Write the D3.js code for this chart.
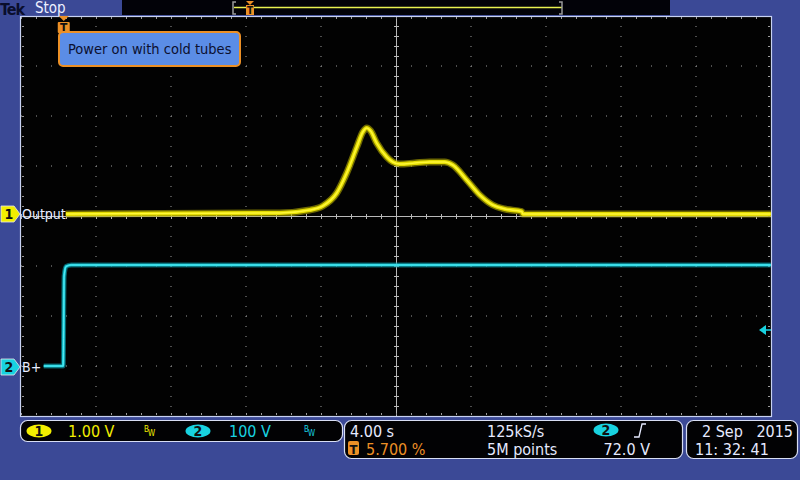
<!DOCTYPE html>
<html><head><meta charset="utf-8">
<script src="https://cdn.jsdelivr.net/npm/d3@7"></script>
<style>
html,body{margin:0;padding:0;background:#3b4996;}
svg{display:block;}
text{font-family:"Liberation Sans Narrow","DejaVu Sans Condensed","Noto Sans",sans-serif;}
</style></head>
<body>
<svg id="c" width="800" height="480"></svg>
<script>
// ---- Data ----
const ch1Time  = [0.11, 11.52, 13.12, 13.81, 14.56, 15.09, 15.63, 15.95, 16.16, 16.37, 16.69, 17.23, 17.55, 17.92, 18.72, 19.52, 20.32, 20.75, 21.49, 22.19, 22.88, 23.52, 24.43, 24.48, 37.71];
const ch1Volts = [0.00, 0.02, 0.08, 0.16, 0.42, 0.82, 1.34, 1.64, 1.72, 1.66, 1.42, 1.14, 1.04, 1.00, 1.02, 1.04, 1.04, 0.98, 0.68, 0.38, 0.18, 0.10, 0.05, 0.00, 0.00];
const ch2Time  = [-1.07, -0.03, 0.02, 0.12, 0.4, 37.71];
const ch2Volts = [0, 0, 180, 199, 202, 202];
const timeRange = [-2.28, 37.72];   // 4.00 s/div, trigger at 5.700 %
const ch1Label = "Output", ch2Label = "B+";
const annotation = "Power on with cold tubes";
const ch1Scale = "1.00 V", ch2Scale = "100 V";
const timeDiv = "4.00 s", trigPos = "5.700 %", sampleRate = "125kS/s", recLen = "5M points", trigLevel = "72.0 V";
const dateStr = ["2 Sep", "2015"], timeStr = "11: 32: 41";
const trigLevelVolts = 72;

// ---- Layout ----
const svg = d3.select("#c");
const BG = "#3b4996", FRAME = "#c8d2f2", GRID = "#9a9a9a";
const YEL = "#f2ee00", CYAN = "#18d2e0", ORANGE = "#ec9026";
const gx = d3.scaleLinear().domain([0,10]).range([21,771]);
const gy = d3.scaleLinear().domain([0,8]).range([16,416]);
const x = d3.scaleLinear().domain(timeRange).range([21,771]);
const y1 = d3.scaleLinear().domain([0,1]).range([214,164]);
const y2 = d3.scaleLinear().domain([0,100]).range([366,316]);

svg.append("rect").attr("width",800).attr("height",480).attr("fill",BG);
svg.append("rect").attr("x",21).attr("y",16).attr("width",750).attr("height",400).attr("fill","#020202");

const grid = svg.append("g");
d3.range(1,10).filter(i=>i!==5).forEach(i=>{
  grid.append("line").attr("x1",gx(i)).attr("x2",gx(i)).attr("y1",16).attr("y2",416)
    .attr("stroke",GRID).attr("stroke-width",1).attr("stroke-dasharray","1,9");
});
d3.range(1,8).filter(i=>i!==4).forEach(i=>{
  grid.append("line").attr("y1",gy(i)).attr("y2",gy(i)).attr("x1",21).attr("x2",771)
    .attr("stroke",GRID).attr("stroke-width",1).attr("stroke-dasharray","1,14");
});
grid.append("line").attr("x1",gx(5)+0.5).attr("x2",gx(5)+0.5).attr("y1",16).attr("y2",416).attr("stroke","#b8b8b8");
grid.append("line").attr("y1",gy(4)+0.5).attr("y2",gy(4)+0.5).attr("x1",21).attr("x2",771).attr("stroke","#b8b8b8");
d3.range(0,51).forEach(i=>{
  const xx = 21 + i*15;
  grid.append("line").attr("x1",xx+0.5).attr("x2",xx+0.5).attr("y1",gy(4)-2).attr("y2",gy(4)+3).attr("stroke","#b8b8b8");
  grid.append("line").attr("x1",xx+0.5).attr("x2",xx+0.5).attr("y1",17).attr("y2",19).attr("stroke",GRID);
  grid.append("line").attr("x1",xx+0.5).attr("x2",xx+0.5).attr("y1",413).attr("y2",415).attr("stroke",GRID);
});
d3.range(0,41).forEach(i=>{
  const yy = 16 + i*10;
  grid.append("line").attr("y1",yy+0.5).attr("y2",yy+0.5).attr("x1",gx(5)-2).attr("x2",gx(5)+3).attr("stroke","#b8b8b8");
  grid.append("line").attr("y1",yy+0.5).attr("y2",yy+0.5).attr("x1",22).attr("x2",24).attr("stroke",GRID);
  grid.append("line").attr("y1",yy+0.5).attr("y2",yy+0.5).attr("x1",768).attr("x2",770).attr("stroke",GRID);
});
svg.append("rect").attr("x",20.5).attr("y",16.5).attr("width",751).attr("height",400).attr("fill","none").attr("stroke",FRAME).attr("stroke-width",1.2);

// ---- Traces ----
const ch2 = ch2Time.map((t,i)=>[t,ch2Volts[i]]);
const ch1 = ch1Time.map((t,i)=>[t,ch1Volts[i]]);
const line2 = d3.line().x(d=>x(d[0])).y(d=>y2(d[1])).curve(d3.curveMonotoneX);
const line1 = d3.line().x(d=>x(d[0])).y(d=>y1(d[1])).curve(d3.curveMonotoneX);
svg.append("path").attr("d",line2(ch2)).attr("fill","none").attr("stroke","#0c9aa8").attr("stroke-width",5).attr("opacity",0.6);
svg.append("path").attr("d",line2(ch2)).attr("fill","none").attr("stroke",CYAN).attr("stroke-width",2.6);
svg.append("path").attr("d",line2(ch2)).attr("fill","none").attr("stroke","#6ff0f8").attr("stroke-width",0.8);
svg.append("path").attr("d",line1(ch1)).attr("fill","none").attr("stroke","#b4ac00").attr("stroke-width",7).attr("opacity",0.6);
svg.append("path").attr("d",line1(ch1)).attr("fill","none").attr("stroke","#e2da00").attr("stroke-width",4.2);
svg.append("path").attr("d",line1(ch1)).attr("fill","none").attr("stroke","#fff838").attr("stroke-width",1.5);

// ---- Channel markers ----
function chMarker(yc, color, num, label){
  const g = svg.append("g");
  g.append("path").attr("d",`M1,${yc-8} L14,${yc-8} L20,${yc} L14,${yc+8} L1,${yc+8} Z`).attr("fill",color).attr("stroke","#e8e8e8").attr("stroke-width",0.8);
  g.append("text").attr("x",9).attr("y",yc+5).attr("text-anchor","middle").attr("font-size",14).attr("font-weight","bold").attr("fill","#101010").text(num);
  g.append("text").attr("x",22).attr("y",yc+5).attr("font-size",14).attr("fill","#e8ecff").text(label);
}
chMarker(y1(0), YEL, "1", ch1Label);
chMarker(y2(0)+1, CYAN, "2", ch2Label);

const ty = y2(trigLevelVolts);
svg.append("path").attr("d",`M759,${ty} L766,${ty-5} L766,${ty+5} Z`).attr("fill",CYAN);
svg.append("line").attr("x1",766).attr("x2",771).attr("y1",ty).attr("y2",ty).attr("stroke",CYAN).attr("stroke-width",1.5);

const tx = x(0);
svg.append("path").attr("d",`M${tx-5},16 L${tx+5},16 L${tx},21 Z`).attr("fill",ORANGE);
svg.append("rect").attr("x",tx-6).attr("y",22).attr("width",12).attr("height",11).attr("fill",ORANGE).attr("rx",1);
svg.append("text").attr("x",tx).attr("y",32).attr("text-anchor","middle").attr("font-size",12).attr("font-weight","bold").attr("fill","#101010").text("T");

svg.append("rect").attr("x",59).attr("y",32).attr("width",181).attr("height",34).attr("rx",4)
  .attr("fill","#5b8de6").attr("stroke",ORANGE).attr("stroke-width",2);
svg.append("text").attr("x",68).attr("y",54).attr("font-size",14.5).attr("fill","#0c1030").text(annotation);

// ---- Top bar ----
svg.append("text").attr("x",0).attr("y",15).attr("font-family","'Liberation Serif','DejaVu Serif',serif")
  .attr("font-weight","bold").attr("font-size",16).attr("fill","#0a0e2c").attr("letter-spacing",-1).text("Tek");
svg.append("text").attr("x",35).attr("y",13).attr("font-size",15).attr("fill","#eef0ff").text("Stop");
svg.append("rect").attr("x",122).attr("y",0).attr("width",548).attr("height",15).attr("fill","#020208");
svg.append("line").attr("x1",234).attr("x2",562).attr("y1",7.5).attr("y2",7.5).attr("stroke","#e8f050").attr("stroke-width",1.5);
svg.append("path").attr("d","M236,2 L233,2 L233,14 L236,14").attr("fill","none").attr("stroke","#9a9a9a").attr("stroke-width",1.5);
svg.append("path").attr("d","M559,2 L562,2 L562,14 L559,14").attr("fill","none").attr("stroke","#9a9a9a").attr("stroke-width",1.5);
svg.append("path").attr("d","M246,1 L254,1 L250,5 Z").attr("fill",ORANGE);
svg.append("rect").attr("x",246).attr("y",5).attr("width",8).attr("height",10).attr("fill",ORANGE);
svg.append("text").attr("x",250).attr("y",14).attr("text-anchor","middle").attr("font-size",10).attr("font-weight","bold").attr("fill","#101010").text("T");

// ---- Bottom readouts ----
function box(x0,y0,w,h){
  svg.append("rect").attr("x",x0+0.5).attr("y",y0+0.5).attr("width",w).attr("height",h).attr("rx",7)
    .attr("fill","#020204").attr("stroke","#d8def4").attr("stroke-width",1.2);
}
box(20,420,322,21);
box(344,420,338,38);
box(686,420,111,38);
function badge(cx,cy,color,num){
  svg.append("ellipse").attr("cx",cx).attr("cy",cy).attr("rx",12.5).attr("ry",6.5).attr("fill",color);
  svg.append("text").attr("x",cx).attr("y",cy+5).attr("text-anchor","middle").attr("font-size",14).attr("font-weight","bold").attr("fill","#101010").text(num);
}
function bw(xx,color){
  svg.append("text").attr("x",xx).attr("y",432).attr("font-size",8).attr("fill",color).text("B");
  svg.append("text").attr("x",xx+4).attr("y",436).attr("font-size",8).attr("fill",color).text("W");
}
badge(39,431,YEL,"1");
svg.append("text").attr("x",68).attr("y",437).attr("font-size",16).attr("fill",YEL).text(ch1Scale);
bw(144,YEL);
badge(198,431,CYAN,"2");
svg.append("text").attr("x",229).attr("y",437).attr("font-size",16).attr("fill",CYAN).text(ch2Scale);
bw(304,CYAN);

const W = "#e6eaff";
svg.append("text").attr("x",350).attr("y",437).attr("font-size",16).attr("fill",W).text(timeDiv);
svg.append("rect").attr("x",348).attr("y",441).attr("width",11).attr("height",14).attr("rx",2).attr("fill",ORANGE);
svg.append("text").attr("x",353.5).attr("y",454).attr("text-anchor","middle").attr("font-size",13).attr("font-weight","bold").attr("fill","#101010").text("T");
svg.append("text").attr("x",366).attr("y",455).attr("font-size",16).attr("fill",ORANGE).text(trigPos);
svg.append("text").attr("x",487).attr("y",437).attr("font-size",16).attr("fill",W).text(sampleRate);
svg.append("text").attr("x",487).attr("y",455).attr("font-size",16).attr("fill",W).text(recLen);
badge(606,430,CYAN,"2");
svg.append("path").attr("d","M634,437 L639,437 L642,424 L646,424").attr("fill","none").attr("stroke",W).attr("stroke-width",1.3);
svg.append("text").attr("x",650).attr("y",455).attr("text-anchor","end").attr("font-size",16).attr("fill",W).text(trigLevel);

svg.append("text").attr("x",702).attr("y",437).attr("font-size",16).attr("fill",W).text(dateStr[0]);
svg.append("text").attr("x",793).attr("y",437).attr("text-anchor","end").attr("font-size",16).attr("fill",W).text(dateStr[1]);
svg.append("text").attr("x",695).attr("y",455).attr("font-size",16).attr("fill",W).text(timeStr);
</script>
</body></html>
